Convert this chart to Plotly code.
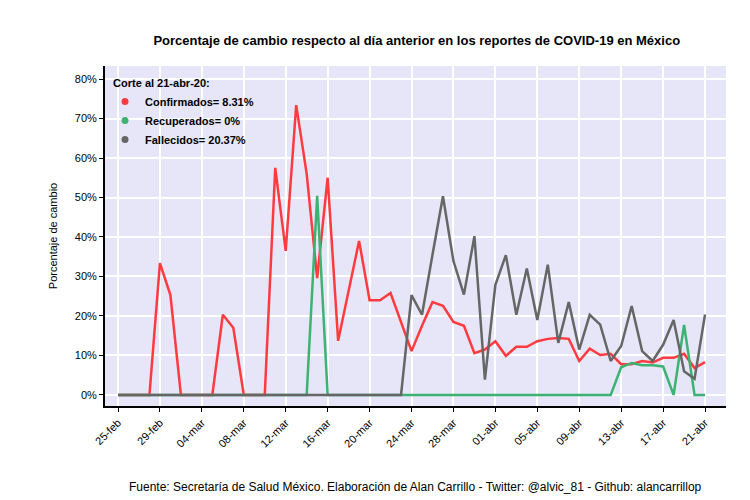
import pandas as pd
import plotly.graph_objects as go

fechas = pd.date_range('2020-02-25', '2020-04-21', freq='D')

confirmados = [0, 0, 0, 0, 33.4, 25.3, 0, 0, 0, 0, 20.3, 17.0, 0, 0, 0,
               57.5, 36.5, 73.4, 56.0, 29.6, 55.0, 13.7, 26.0, 39.0, 24.0, 24.0, 25.8, 18.7,
               11.1, 17.5, 23.5, 22.6, 18.5, 17.5, 10.6, 11.5, 13.6, 9.9, 12.2, 12.2, 13.6,
               14.2, 14.4, 14.2, 8.6, 11.7, 10.1, 10.4, 7.8, 7.8, 8.6, 8.2, 9.4, 9.4, 10.4,
               6.8, 8.31]
recuperados = [0] * 19 + [50.4] + [0] * 28 + [7.0, 8.1, 7.5, 7.5, 7.2, 0, 17.7, 0, 0]
fallecidos = [0] * 28 + [25.3, 20.3, 35.5, 50.3, 33.9, 25.4, 40.2, 3.9, 27.9, 35.4, 20.3,
                         32.0, 19.0, 33.0, 13.2, 23.5, 11.5, 20.3, 17.8, 8.6, 12.4, 22.5,
                         11.1, 8.6, 12.7, 19.0, 6.0, 4.1, 20.37]

tick_fechas = fechas[::4]
tick_textos = ['25-feb', '29-feb', '04-mar', '08-mar', '12-mar', '16-mar', '20-mar', '24-mar',
               '28-mar', '01-abr', '05-abr', '09-abr', '13-abr', '17-abr', '21-abr']
y_ticks = list(range(0, 81, 10))
y_textos = [f'{v}%' for v in y_ticks]

series = [('Confirmados= 8.31%', confirmados, '#FF3B3F'),
          ('Recuperados= 0%', recuperados, '#3CB371'),
          ('Fallecidos= 20.37%', fallecidos, '#666666')]

fig = go.Figure()
for nombre, valores, color in series:
    fig.add_trace(go.Scatter(x=fechas, y=valores, mode='lines', showlegend=False,
                             line=dict(color=color, width=2.5)))
# entradas de leyenda con punto
for nombre, valores, color in series:
    fig.add_trace(go.Scatter(x=[None], y=[None], name=f'<b>{nombre}</b>', mode='markers',
                             marker=dict(color=color, size=7)))

fig.update_layout(
    width=750, height=500,
    paper_bgcolor='white', plot_bgcolor='#E6E6F8',
    font=dict(family='Liberation Sans, Arial', size=11, color='black'),
    title=dict(text='<b>Porcentaje de cambio respecto al día anterior en los reportes de COVID-19 en México</b>',
               x=0.545, xanchor='center', y=0.945, font=dict(size=13)),
    margin=dict(l=97, r=32, t=58, b=102, autoexpand=False),
    legend=dict(title=dict(text='<b>  Corte al 21-abr-20:</b>', font=dict(size=11)),
                x=0.0, y=0.98, bgcolor='rgba(0,0,0,0)', font=dict(size=11),
                itemwidth=30, tracegroupgap=0),
    annotations=[dict(text='Fuente: Secretaría de Salud México. Elaboración de Alan Carrillo - Twitter: @alvic_81 - Github: alancarrillop',
                      xref='paper', yref='paper', x=0.5, y=-0.238, yanchor='middle', showarrow=False,
                      font=dict(size=12), xanchor='center')],
)
fig.update_xaxes(range=[fechas[0] - pd.Timedelta(days=1.24), fechas[-1] + pd.Timedelta(days=2)],
                 tickvals=tick_fechas, ticktext=tick_textos, tickangle=-45, automargin=False,
                 showgrid=True, gridcolor='white', gridwidth=2, zeroline=False,
                 showline=True, linecolor='black', linewidth=2,
                 ticks='outside', ticklen=4, tickcolor='black')
fig.update_yaxes(range=[-2.8, 83.3], tickvals=y_ticks, ticktext=y_textos, automargin=False,
                 title=dict(text='Porcentaje de cambio', font=dict(size=11)),
                 showgrid=True, gridcolor='white', gridwidth=2, zeroline=False,
                 showline=True, linecolor='black', linewidth=2,
                 ticks='outside', ticklen=4, tickcolor='black')

fig.write_html('out.html')
